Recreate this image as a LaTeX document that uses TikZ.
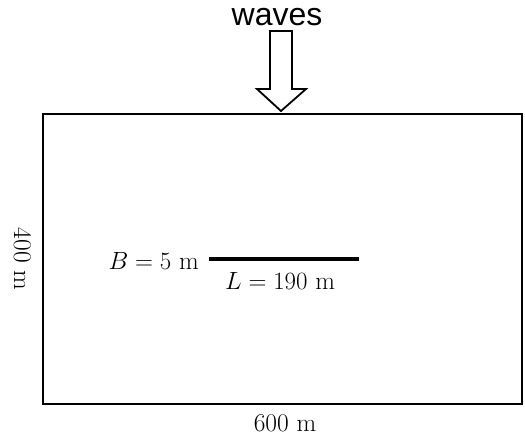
\documentclass[tikz,border=0pt]{standalone}
\usepackage{fontspec}
\newfontfamily\wavesfont{Liberation Sans}
\usetikzlibrary{positioning}

\begin{document}
\begin{tikzpicture}[x=1pt,y=1pt,
    lbl/.style={inner sep=0pt,font=\fontsize{25.5}{30}\selectfont},
    waveslbl/.style={inner sep=0pt,font=\wavesfont\fontsize{32}{36}\selectfont}]
  \useasboundingbox (0,0) rectangle (525,438);
  \draw[line width=2pt] (43,33.5) rectangle (522,323.5);
  % incoming waves
  \node[waveslbl,anchor=base] (waves) at (277,412) {waves};
  \draw[line width=1.8pt,fill=white,line join=miter]
    (270,407) -- (292,407) -- (292,349) -- (306,349) -- (281,327)
    -- (257,349) -- (270,349) -- cycle;
  % barrier
  \coordinate (bw) at (209,179);
  \coordinate (be) at (359,179);
  \coordinate (bmid) at (280,179);
  \draw[line width=3.5pt] (bw) -- (be);
  \node[lbl,left=10pt of bw,yshift=-2pt] (breadth) {$B = 5\ \mathrm{m}$};
  \node[lbl,below=13pt of bmid] (length) {$L = 190\ \mathrm{m}$};
  % sides of the domain
  \node[lbl,rotate=-90] (height) at (22.5,179) {400 m};
  \node[lbl,anchor=base] (width) at (285,6) {600 m};
\end{tikzpicture}
\end{document}
